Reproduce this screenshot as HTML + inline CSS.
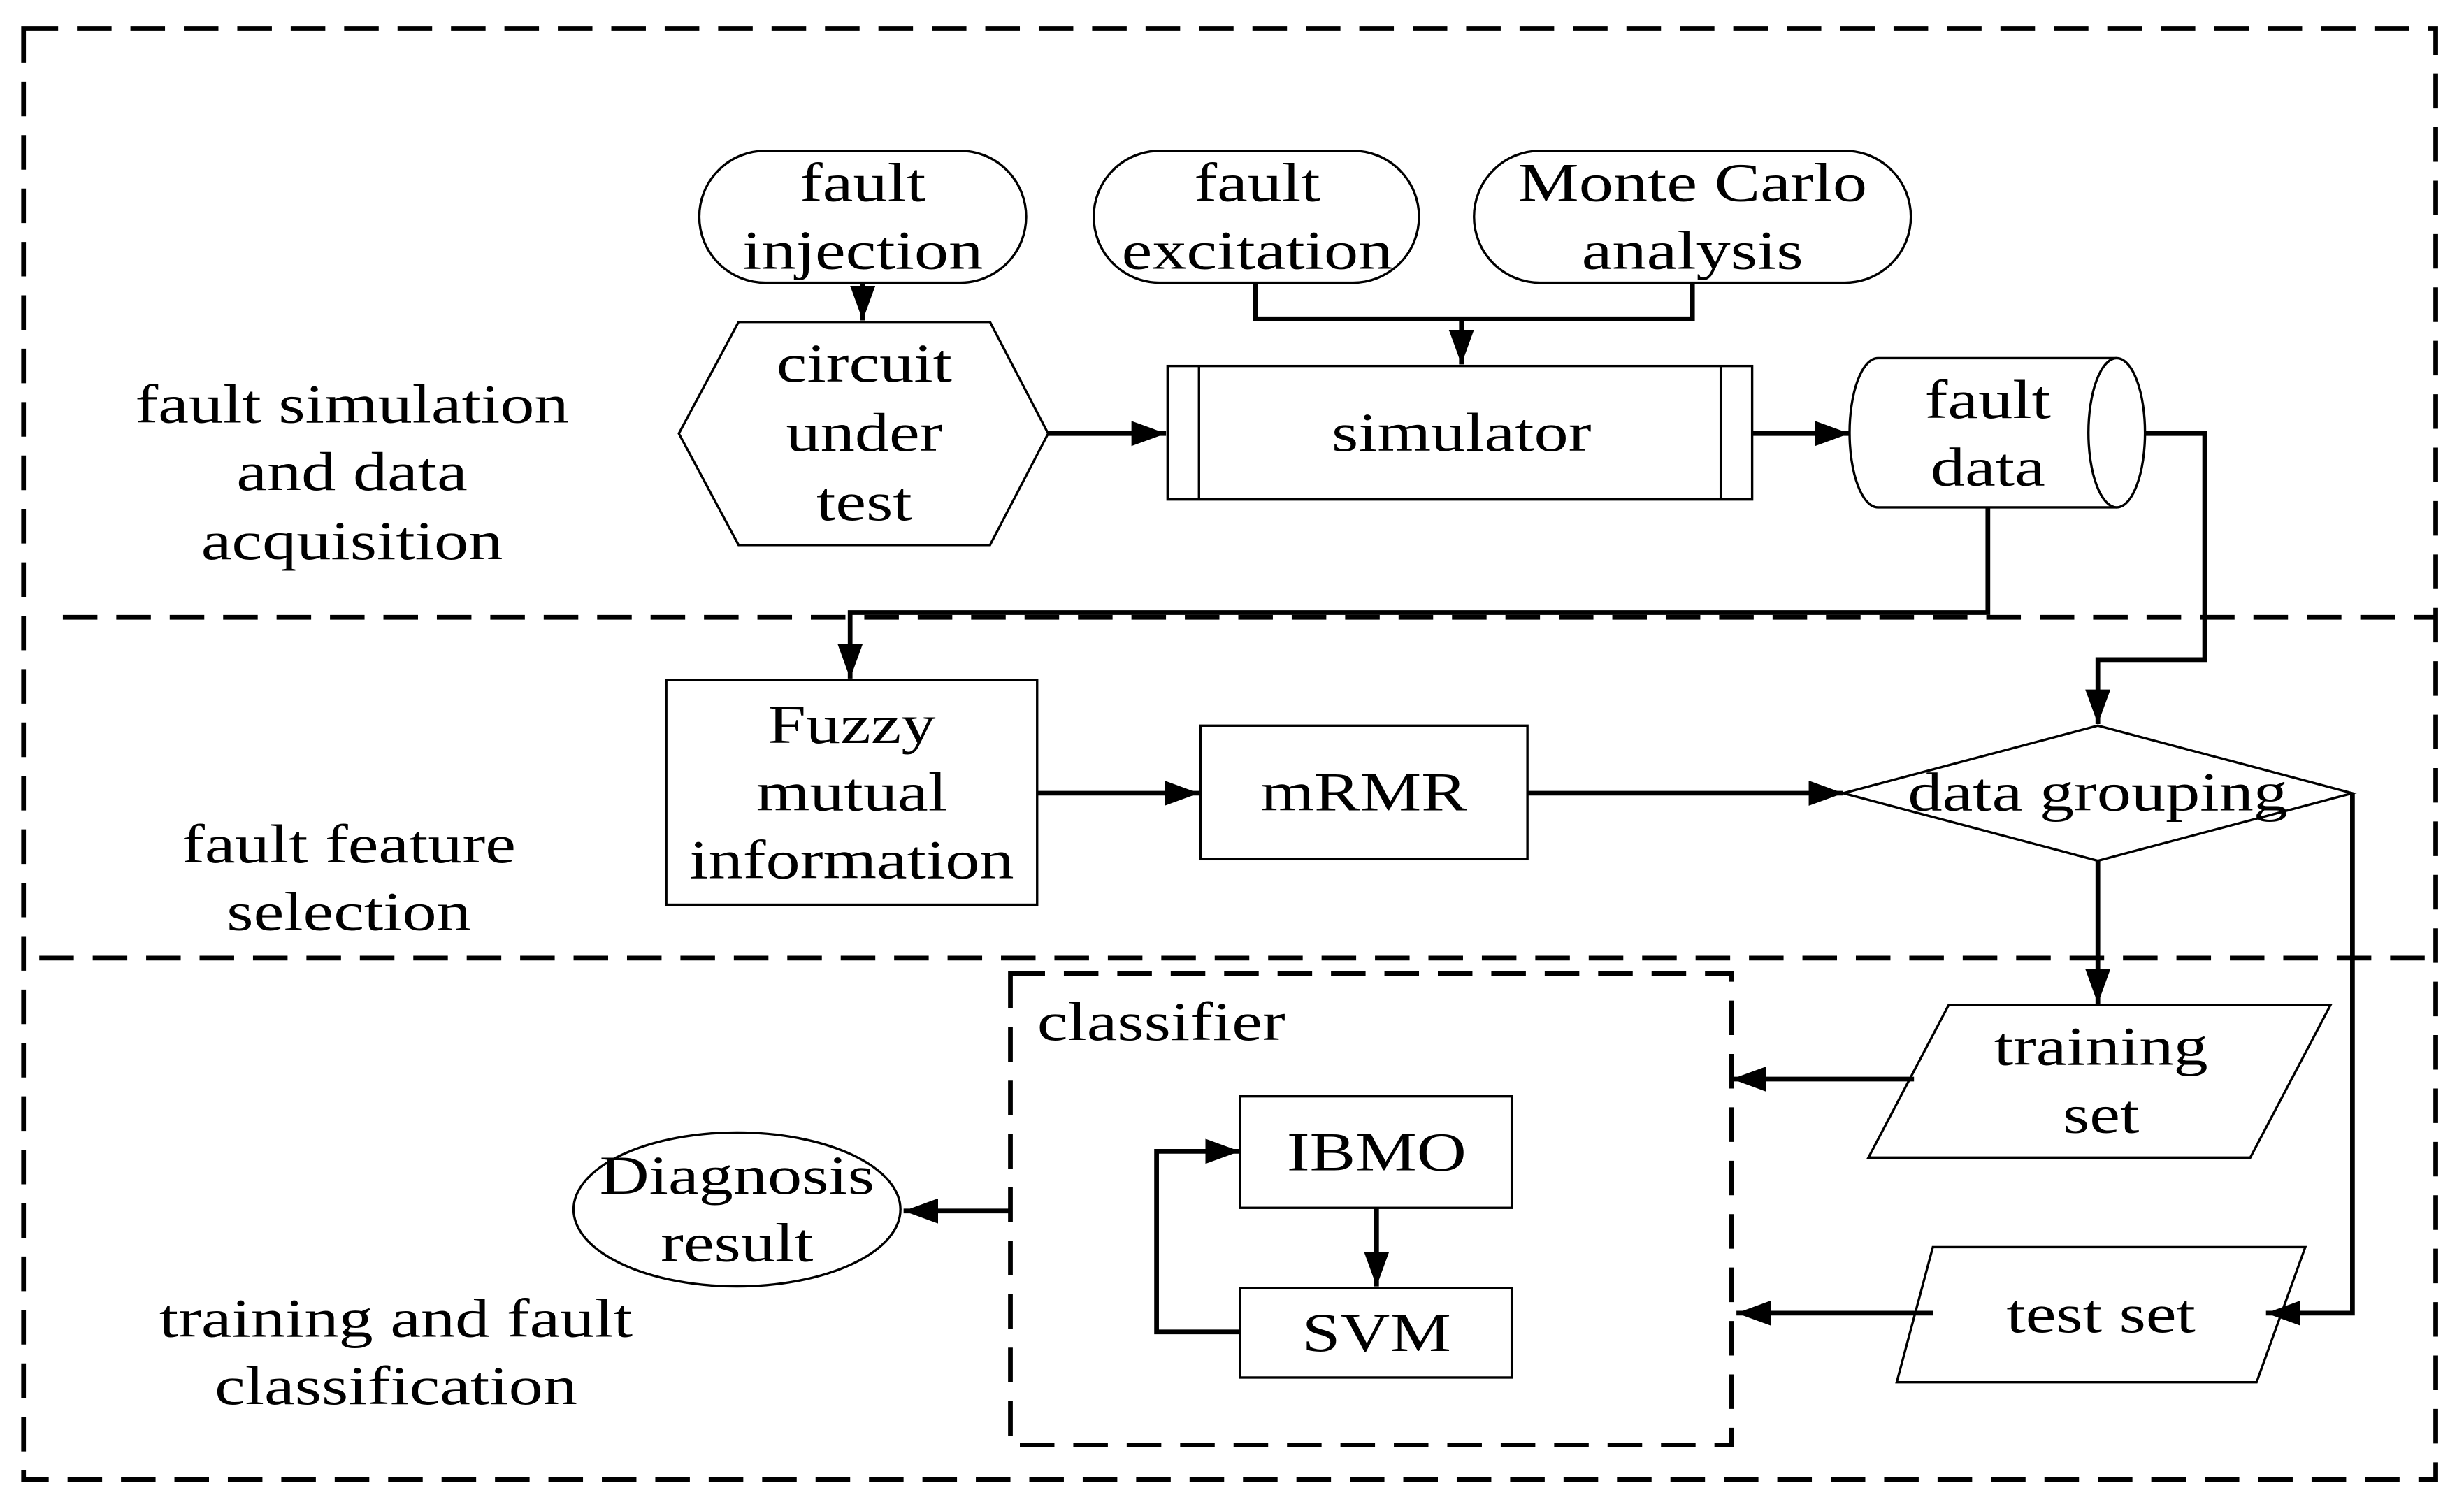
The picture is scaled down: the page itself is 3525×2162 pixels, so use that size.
<!DOCTYPE html>
<html><head><meta charset="utf-8"><style>
html,body{margin:0;padding:0;background:#fff;}
svg{display:block;}
text{font-family:"Liberation Serif",serif;font-size:35px;fill:#000;text-anchor:middle;transform-box:fill-box;transform-origin:center;transform:scaleX(1.25);}
text.l{transform-origin:left center;}
</style></head><body>
<svg width="3525" height="2162" viewBox="0 0 1568 962" preserveAspectRatio="none" xmlns="http://www.w3.org/2000/svg">
<defs>
<marker id="b" markerWidth="22" markerHeight="16" refX="22" refY="8" orient="auto" markerUnits="userSpaceOnUse" viewBox="0 0 22 16"><path d="M0,0 L22,8 L0,16z" fill="#000"/></marker></defs>
<g fill="none" stroke="#000" stroke-width="3" stroke-dasharray="22,12">
<rect x="15" y="18" width="1535" height="924"/>
<line x1="40" y1="393" x2="1550" y2="393"/>
<line x1="25" y1="610" x2="1550" y2="610"/>
<rect x="643" y="620" width="459" height="300"/>
</g>
<g fill="#fff" stroke="#000" stroke-width="1.5">
<rect x="445" y="96" width="208" height="84" rx="42"/>
<rect x="696" y="96" width="207" height="84" rx="42"/>
<rect x="938" y="96" width="278" height="84" rx="42"/>
<polygon points="432,276 470,205 630,205 667,276 630,347 470,347"/>
<rect x="743" y="233" width="372" height="85"/>
<line x1="763" y1="233" x2="763" y2="318"/><line x1="1095" y1="233" x2="1095" y2="318"/>
<path d="M1195,228 L1347,228 A18,47.5 0 0 1 1347,323 L1195,323 A18,47.5 0 0 1 1195,228 Z"/>
<path d="M1347,228 A18,47.5 0 0 0 1347,323"/>
<rect x="424" y="433" width="236" height="143"/>
<rect x="764" y="462" width="208" height="85"/>
<polygon points="1173,505 1335,462 1497,505 1335,548"/>
<polygon points="1240,640 1483,640 1432,737 1189,737"/>
<polygon points="1230,794 1467,794 1436,880 1207,880"/>
<rect x="789" y="698" width="173" height="71"/>
<rect x="789" y="820" width="173" height="57"/>
<ellipse cx="469" cy="770" rx="104" ry="49"/>
</g>
<g fill="none" stroke="#000" stroke-width="3">
<line x1="549" y1="180" x2="549" y2="204" marker-end="url(#b)"/>
<polyline points="799,180 799,203 1077,203 1077,180"/>
<line x1="930" y1="203" x2="930" y2="232" marker-end="url(#b)"/>
<line x1="667" y1="276" x2="742" y2="276" marker-end="url(#b)"/>
<line x1="1115" y1="276" x2="1177" y2="276" marker-end="url(#b)"/>
<polyline points="1365,276 1403,276 1403,420 1335,420 1335,461" marker-end="url(#b)"/>
<polyline points="1265,323 1265,390 541,390 541,432" marker-end="url(#b)"/>
<line x1="660" y1="505" x2="763" y2="505" marker-end="url(#b)"/>
<line x1="972" y1="505" x2="1173" y2="505" marker-end="url(#b)"/>
<line x1="1335" y1="548" x2="1335" y2="639" marker-end="url(#b)"/>
<polyline points="1497,505 1497,836 1442,836" marker-end="url(#b)"/>
<line x1="1218" y1="687" x2="1102" y2="687" marker-end="url(#b)"/>
<line x1="1230" y1="836" x2="1105" y2="836" marker-end="url(#b)"/>
<line x1="876" y1="769" x2="876" y2="819" marker-end="url(#b)"/>
<polyline points="789,848 736,848 736,733 789,733" marker-end="url(#b)"/>
<line x1="643" y1="771" x2="575" y2="771" marker-end="url(#b)"/>
</g>
<text x="549" y="128">fault</text><text x="549" y="171">injection</text>
<text x="800" y="128">fault</text><text x="800" y="171">excitation</text>
<text x="1077" y="128">Monte Carlo</text><text x="1077" y="171">analysis</text>
<text x="550" y="243">circuit</text><text x="550" y="287">under</text><text x="550" y="331">test</text>
<text x="930" y="287">simulator</text>
<text x="1265" y="266">fault</text><text x="1265" y="309">data</text>
<text x="224" y="269">fault simulation</text><text x="224" y="312">and data</text><text x="224" y="356">acquisition</text>
<text x="542" y="473">Fuzzy</text><text x="542" y="516">mutual</text><text x="542" y="559">information</text>
<text x="868" y="516">mRMR</text>
<text x="1335" y="516">data grouping</text>
<text x="222" y="549">fault feature</text><text x="222" y="592">selection</text>
<text class="l" x="660" y="662" style="text-anchor:start">classifier</text>
<text x="1337" y="678">training</text><text x="1337" y="721">set</text>
<text x="1337" y="848">test set</text>
<text x="876" y="745">IBMO</text>
<text x="876" y="860">SVM</text>
<text x="469" y="760">Diagnosis</text><text x="469" y="803">result</text>
<text x="252" y="851">training and fault</text><text x="252" y="894">classification</text>
</svg>
</body></html>
